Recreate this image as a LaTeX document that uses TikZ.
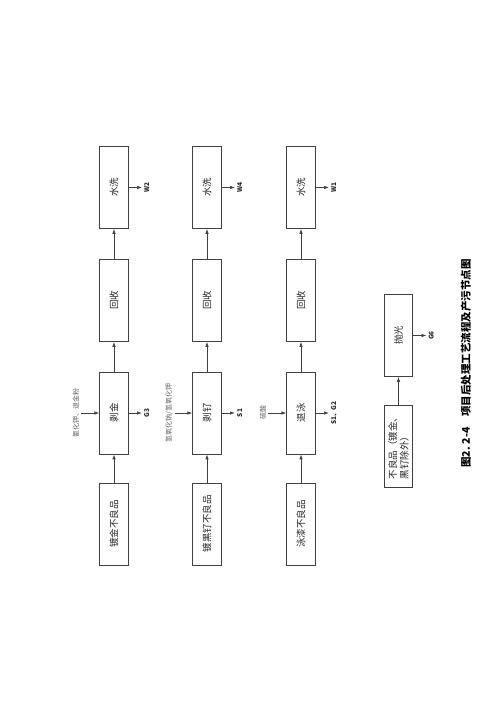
\documentclass[tikz,border=0pt]{standalone}
\usepackage{fontspec}
\newfontfamily\cjk{Noto Sans CJK SC}
\usetikzlibrary{arrows.meta}

\begin{document}
\begin{tikzpicture}[x=1pt,y=1pt,>={Latex[length=5pt,width=3.5pt]},
  box/.style={draw=black!75,line width=0.7pt,rotate=90,minimum width=82pt,
    minimum height=28.5pt,inner sep=1pt,text=black!85,font=\cjk\fontsize{9.5}{11.5}\selectfont},
  agent/.style={rotate=90,inner sep=2pt,text=black!60,font=\cjk\fontsize{7}{8}\selectfont},
  tag/.style={rotate=90,anchor=north,inner sep=2pt,text=black!85,font=\cjk\bfseries\fontsize{6.5}{7}\selectfont},
  flow/.style={->,draw=black!75,line width=0.7pt}]
\useasboundingbox (0,0) rectangle (500,707);
% three stripping lines, drawn as the page is turned
\foreach \i/\x/\src/\strip/\chem/\out/\wout in {
    1/114/镀金不良品/剥金/氰化钾、退金粉/G3/W2,
    2/207/镀黑钌不良品/剥钌/{氢氧化钠/氢氧化钾}/S1/W4,
    3/301/泳漆不良品/退泳/硫酸/S1、G2/W1} {
  \node[box] (src\i) at (\x,183) {\src};
  \node[box] (strip\i) at (\x,294) {\strip};
  \node[box] (rec\i) at (\x,406.5) {回收};
  \node[box] (wash\i) at (\x,519.5) {水洗};
  \node[agent] (chem\i) at (\x-38,294) {\chem};
  \node[tag] (g\i) at (\x+28,294) {\out};
  \node[tag] (w\i) at (\x+28,519.5) {\wout};
  \draw[flow] (src\i) -- (strip\i);
  \draw[flow] (strip\i) -- (rec\i);
  \draw[flow] (rec\i) -- (wash\i);
  \draw[flow] (chem\i) -- (strip\i);
  \draw[flow] (strip\i) -- (g\i);
  \draw[flow] (wash\i) -- (w\i);
}
% polishing of the other rejects
\node[box,align=left] (other) at (398.5,261) {不良品（镀金、\\黑钌除外）};
\node[box] (polish) at (398.5,371.5) {抛光};
\node[tag] (g6) at (426.5,371.5) {G6};
\draw[flow] (other) -- (polish);
\draw[flow] (polish) -- (g6);
% caption
\node[rotate=90,font=\cjk\bfseries\fontsize{10.5}{12}\selectfont] (caption) at (466,343.5)
  {图2. 2-4\quad 项目后处理工艺流程及产污节点图};
\end{tikzpicture}
\end{document}
